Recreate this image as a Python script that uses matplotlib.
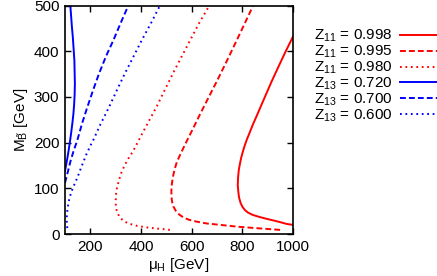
import matplotlib
matplotlib.use("Agg")
import matplotlib.pyplot as plt

plt.rcParams['font.family'] = ['Liberation Sans', 'DejaVu Sans']
plt.rcParams['mathtext.fontset'] = 'custom'
plt.rcParams['mathtext.rm'] = 'Liberation Sans'
plt.rcParams['mathtext.it'] = 'Liberation Sans:italic'

# Z11 = 0.998 (red solid)
z11_998_x = [1000, 975, 949, 920, 890, 863, 840, 822, 811, 801, 793, 787, 784, 782,
             783, 786, 791, 796, 802, 809, 818, 829, 842, 858, 875, 893, 915, 940,
             968, 1000]
z11_998_y = [20, 22, 26, 30, 34, 38, 42, 47, 52, 59, 68, 80, 93, 107,
             122, 140, 155, 168, 180, 193, 207, 222, 240, 260, 282, 305, 333, 363,
             396, 432]
# Z11 = 0.995 (red dashed)
z11_995_x = [949, 900, 850, 780, 712, 660, 620, 590, 568, 550, 537, 528, 523, 520,
             520, 522, 526, 532, 540, 550, 562, 574, 603, 633, 666, 700, 740, 778, 843]
z11_995_y = [9, 11, 13, 16, 20, 23, 27, 31, 36, 43, 51, 60, 70, 82,
             96, 110, 125, 140, 155, 168, 182, 196, 228, 262, 298, 335, 380, 424, 500]
# Z11 = 0.980 (red dotted)
z11_980_x = [514, 490, 462, 420, 383, 350, 330, 316, 306, 301, 300, 301, 305, 313,
             323, 335, 350, 365, 380, 405, 432, 462, 498, 534, 565, 593, 630, 670]
z11_980_y = [9, 10.5, 12, 14.5, 18, 23, 29, 37, 47, 58, 70, 85, 100, 118,
             135, 150, 165, 178, 193, 220, 248, 279, 320, 360, 393, 423, 462, 500]
# Z13 = 0.720 (blue solid)
z13_720_x = [100, 104, 109, 114, 119, 124, 129, 133, 136, 138, 139, 138, 137, 134,
             131, 127, 124, 121]
z13_720_y = [138, 150, 165, 182, 200, 220, 242, 262, 283, 305, 330, 355, 380, 405,
             430, 455, 478, 500]
# Z13 = 0.700 (blue dashed)
z13_700_x = [100, 106, 113, 122, 133, 149, 168, 189, 211, 235, 262, 291, 320, 350]
z13_700_y = [112, 125, 140, 160, 180, 206, 243, 279, 315, 352, 389, 424, 462, 500]
# Z13 = 0.600 (blue dotted)
z13_600_x = [109, 107, 107, 109, 112, 117, 125, 139, 150, 160, 172, 185, 200, 212,
             240, 275, 305, 337, 370, 403, 440, 475]
z13_600_y = [13, 25, 38, 50, 62, 77, 92, 111, 125, 140, 157, 175, 193, 206,
             240, 279, 315, 352, 388, 424, 462, 500]

labels = [r'Z$_{11}$ = 0.998', r'Z$_{11}$ = 0.995', r'Z$_{11}$ = 0.980',
          r'Z$_{13}$ = 0.720', r'Z$_{13}$ = 0.700', r'Z$_{13}$ = 0.600']
xticks = [200, 400, 600, 800, 1000]
yticks = [0, 100, 200, 300, 400, 500]

W, H = 437, 276
fig = plt.figure(figsize=(W / 100, H / 100), dpi=100)
ax = fig.add_axes([65 / W, 1 - 234 / H, 228 / W, 228.5 / H])

lw = 1.4
dashed = (0, (3.0, 1.6))
dotted = (0, (0.9, 1.9))
series = [
    (z11_998_x, z11_998_y, 'red', '-'),
    (z11_995_x, z11_995_y, 'red', dashed),
    (z11_980_x, z11_980_y, 'red', dotted),
    (z13_720_x, z13_720_y, 'blue', '-'),
    (z13_700_x, z13_700_y, 'blue', dashed),
    (z13_600_x, z13_600_y, 'blue', dotted),
]
handles = []
for (x, y, c, ls), lab in zip(series, labels):
    h, = ax.plot(x, y, color=c, linestyle=ls, linewidth=lw, label=lab)
    handles.append(h)

ax.set_xlim(100, 1000)
ax.set_ylim(0, 500)
ax.set_xticks(xticks)
ax.set_yticks(yticks)
ax.tick_params(direction='in', top=True, right=True, length=4, width=1,
               labelsize=11, pad=4)
for s in ax.spines.values():
    s.set_linewidth(1.2)

ax.set_xlabel(r'μ$_{\mathrm{H}}$ [GeV]', fontsize=11, labelpad=2)
ax.set_ylabel(r'M$_{\tilde{\mathrm{B}}}$ [GeV]', fontsize=11, labelpad=3)

leg = ax.legend(handles=handles, labels=labels, loc='upper left',
                bbox_to_anchor=(314 / W, 1 - 28 / H), bbox_transform=fig.transFigure,
                frameon=False, markerfirst=False, fontsize=11,
                handlelength=2.9, handletextpad=0.5, labelspacing=-0.03,
                borderaxespad=0, borderpad=0)

fig.savefig('out.png', dpi=100)
